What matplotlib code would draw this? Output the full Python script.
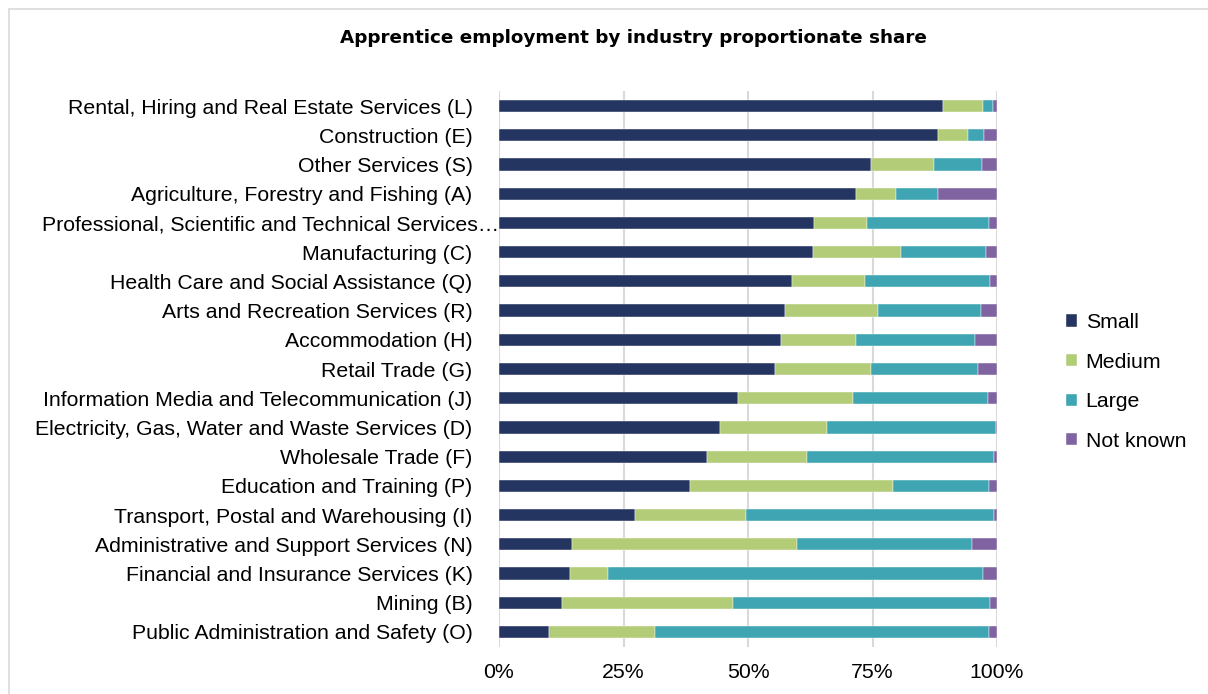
import matplotlib
matplotlib.use("Agg")
import matplotlib.pyplot as plt
from matplotlib.patches import Rectangle
from matplotlib.transforms import ScaledTranslation
import numpy as np

plt.rcParams['font.family'] = ['Liberation Sans', 'DejaVu Sans']

industries = [
    "Rental, Hiring and Real Estate Services (L)",
    "Construction (E)",
    "Other Services (S)",
    "Agriculture, Forestry and Fishing (A)",
    "Professional, Scientific and Technical Services\u2026",
    "Manufacturing (C)",
    "Health Care and Social Assistance (Q)",
    "Arts and Recreation Services (R)",
    "Accommodation (H)",
    "Retail Trade (G)",
    "Information Media and Telecommunication (J)",
    "Electricity, Gas, Water and Waste Services (D)",
    "Wholesale Trade (F)",
    "Education and Training (P)",
    "Transport, Postal and Warehousing (I)",
    "Administrative and Support Services (N)",
    "Financial and Insurance Services (K)",
    "Mining (B)",
    "Public Administration and Safety (O)",
]
small = [89.2, 88.1, 74.7, 71.6, 63.2, 63.0, 58.9, 57.5, 56.7, 55.4, 48.0, 44.3, 41.7, 38.3, 27.3, 14.6, 14.2, 12.6, 10.0]
medium = [8.0, 6.1, 12.7, 8.1, 10.6, 17.8, 14.5, 18.6, 14.9, 19.2, 23.0, 21.6, 20.1, 40.8, 22.3, 45.2, 7.6, 34.4, 21.4]
large = [1.9, 3.2, 9.5, 8.4, 24.6, 16.9, 25.1, 20.6, 23.9, 21.6, 27.2, 33.9, 37.6, 19.3, 49.7, 35.2, 75.4, 51.6, 67.0]
not_known = [0.9, 2.6, 3.1, 11.9, 1.6, 2.3, 1.5, 3.3, 4.5, 3.8, 1.8, 0.2, 0.6, 1.6, 0.7, 5.0, 2.8, 1.4, 1.6]

series_names = ["Small", "Medium", "Large", "Not known"]
colors = ["#253561", "#b3cc78", "#3fa5b2", "#8064a2"]

FS = 15.3

fig = plt.figure(figsize=(12.08, 6.94), dpi=100)
fig.patches.append(Rectangle((9/1208, -0.1), 1.2, 1 - 9/694 + 0.1, transform=fig.transFigure,
                             fill=False, edgecolor="#d9d9d9", linewidth=1.2))
ax = fig.add_axes([499/1208, 1 - 646.6/694, (997-499)/1208, (646.6-91.4)/694])

data = np.array([small, medium, large, not_known], dtype=float)
y = np.arange(len(industries))
left = np.zeros(len(industries))
for vals, name, c in zip(data, series_names, colors):
    ax.barh(y, vals, left=left, height=0.42, color=c, label=name, zorder=3,
            edgecolor="white", linewidth=0.3)
    left += vals

ax.set_ylim(len(industries) - 0.5, -0.5)
ax.set_xlim(0, 100)
ax.set_xticks([0, 25, 50, 75, 100])
ax.set_xticklabels(["0%", "25%", "50%", "75%", "100%"], fontsize=FS)
ax.set_yticks(y)
ax.set_yticklabels(industries, fontsize=FS)
ax.tick_params(axis='both', length=0, colors="#000000")
ax.tick_params(axis='x', pad=12)
ax.tick_params(axis='y', pad=19)
ax.grid(axis='x', color="#d9d9d9", linewidth=1.5, zorder=0)
for s in ax.spines.values():
    s.set_visible(False)

# truncated label sits closer to the bars
for lbl in ax.get_yticklabels():
    if lbl.get_text().endswith("\u2026"):
        lbl.set_transform(lbl.get_transform() + ScaledTranslation(27/100, 0, fig.dpi_scale_trans))

fig.text(633/1208, 1 - 38/694, "Apprentice employment by industry proportionate share",
         ha='center', va='center', fontsize=13.2, fontweight='bold', family='DejaVu Sans')

handles, labels = ax.get_legend_handles_labels()
leg = fig.legend(handles, labels, loc='center left', bbox_to_anchor=(1047/1208, 1 - 382/694),
                 frameon=False, fontsize=FS, handlelength=0.5, handleheight=0.5,
                 handletextpad=0.42, labelspacing=0.97)

fig.savefig("out.png", dpi=100, facecolor="white")
